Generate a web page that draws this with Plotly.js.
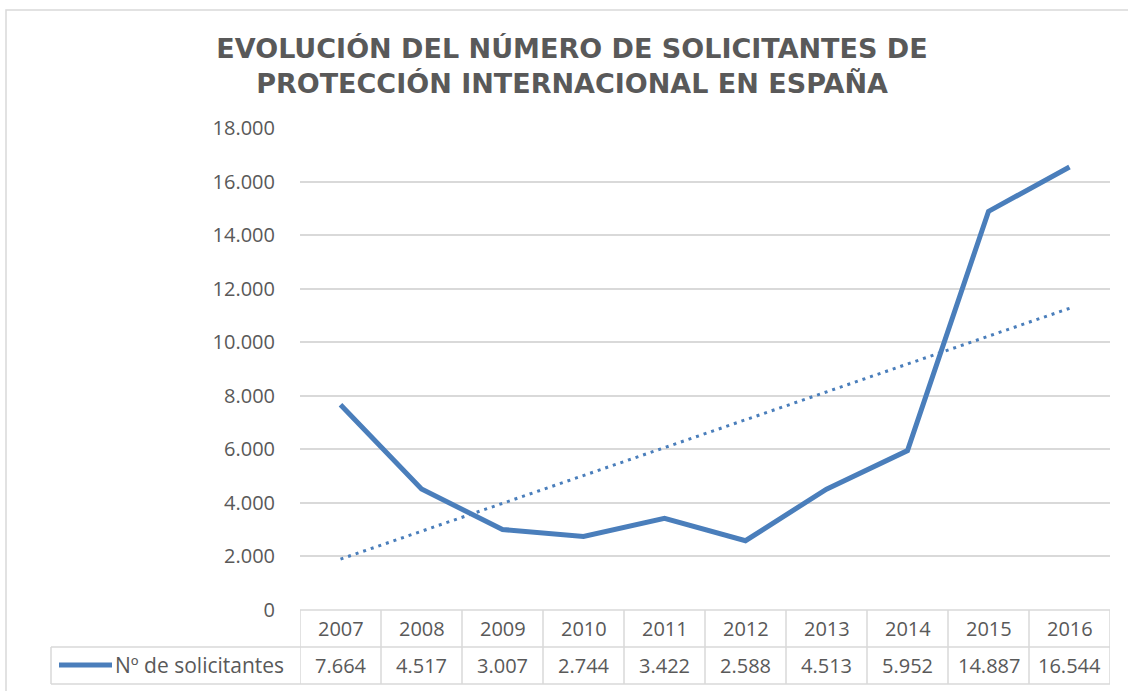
<!DOCTYPE html>
<html>
<head>
<meta charset="utf-8">
<script src="https://cdn.plot.ly/plotly-3.0.1.min.js"></script>
<style>html,body{margin:0;padding:0;background:#fff;}#chart{width:1128px;height:691px;}</style>
</head>
<body>
<div id="chart"></div>
<script>
const chartTitle = 'EVOLUCIÓN DEL NÚMERO DE SOLICITANTES DE<br>PROTECCIÓN INTERNACIONAL EN ESPAÑA';
const seriesName = 'Nº de solicitantes';
const years = ['2007','2008','2009','2010','2011','2012','2013','2014','2015','2016'];
const solicitantes = [7664, 4517, 3007, 2744, 3422, 2588, 4513, 5952, 14887, 16544];
const yTickVals = [0, 2000, 4000, 6000, 8000, 10000, 12000, 14000, 16000, 18000];
const yTickText = ['0','2.000','4.000','6.000','8.000','10.000','12.000','14.000','16.000','18.000'];

// linear trendline (least squares) from the series
const n = solicitantes.length;
const xs = solicitantes.map((_, i) => i + 1);
const mx = xs.reduce((a, b) => a + b, 0) / n;
const my = solicitantes.reduce((a, b) => a + b, 0) / n;
let sxy = 0, sxx = 0;
for (let i = 0; i < n; i++) { sxy += (xs[i] - mx) * (solicitantes[i] - my); sxx += (xs[i] - mx) ** 2; }
const slope = sxy / sxx, intercept = my - slope * mx;
const trend = xs.map(x => intercept + slope * x);

const fmt = v => String(v).replace(/\B(?=(\d{3})+(?!\d))/g, '.');

const BLUE = '#4A7EBB';
const GRID = '#D9D9D9';
const TXT = '#595959';
const FONT = 'Open Sans, Liberation Sans, sans-serif';

// geometry helpers (pixel -> paper) for table decorations
const L = 300, R = 18, T = 128, B = 81, W = 1128, H = 691;
const pw = W - L - R, ph = H - T - B;
const px = x => (x - L) / pw;
const py = y => (H - B - y) / ph;

const traces = [
  { x: years, y: solicitantes, type: 'scatter', mode: 'lines', name: seriesName,
    line: { color: BLUE, width: 5 }, hoverinfo: 'x+y' },
  { x: years, y: trend, type: 'scatter', mode: 'lines', name: 'Lineal',
    line: { color: BLUE, width: 3, dash: '3px,5px' }, hoverinfo: 'skip' }
];

const shapes = [];
const lineStyle = { color: GRID, width: 1.5 };
// outer chart border (left & top visible)
shapes.push({ type: 'rect', xref: 'paper', yref: 'paper', x0: px(6), x1: px(1140), y0: py(10), y1: py(700), line: lineStyle, layer: 'below' });
// table horizontal lines
shapes.push({ type: 'line', xref: 'x', yref: 'paper', x0: -0.5, x1: years.length - 0.5, y0: py(610), y1: py(610), line: lineStyle });
shapes.push({ type: 'line', xref: 'paper', yref: 'paper', x0: px(51), x1: 1, y0: py(647), y1: py(647), line: lineStyle });
shapes.push({ type: 'line', xref: 'paper', yref: 'paper', x0: px(51), x1: 1, y0: py(684), y1: py(684), line: lineStyle });
// table vertical lines
for (let i = 0; i <= years.length; i++) {
  shapes.push({ type: 'line', xref: 'x', yref: 'paper', x0: i - 0.5, x1: i - 0.5, y0: py(610), y1: py(684), line: lineStyle });
}
shapes.push({ type: 'line', xref: 'paper', yref: 'paper', x0: px(51), x1: px(51), y0: py(647), y1: py(684), line: lineStyle });
// legend key
shapes.push({ type: 'line', xref: 'paper', yref: 'paper', x0: px(59), x1: px(112), y0: py(665), y1: py(665), line: { color: BLUE, width: 5 } });

const annotations = [];
years.forEach((yr, i) => {
  annotations.push({ x: i, xref: 'x', y: py(628), yref: 'paper', text: yr, showarrow: false,
    xanchor: 'center', yanchor: 'middle', font: { family: FONT, size: 20, color: TXT } });
  annotations.push({ x: i, xref: 'x', y: py(665), yref: 'paper', text: fmt(solicitantes[i]), showarrow: false,
    xanchor: 'center', yanchor: 'middle', font: { family: FONT, size: 20, color: TXT } });
});
annotations.push({ x: px(113), xref: 'paper', y: py(665), yref: 'paper', text: seriesName, showarrow: false,
  xanchor: 'left', yanchor: 'middle', font: { family: FONT, size: 21, color: TXT } });

const layout = {
  width: W, height: H, autosize: false,
  margin: { l: L, r: R, t: T, b: B, pad: 0 },
  paper_bgcolor: '#ffffff', plot_bgcolor: '#ffffff',
  showlegend: false,
  title: { text: chartTitle, x: 572 / W, xanchor: 'center', xref: 'container', y: 1 - 58 / H, yref: 'container', yanchor: 'middle',
    font: { family: 'DejaVu Sans, sans-serif', size: 27, color: TXT, weight: 'bold' } },
  xaxis: { type: 'category', range: [-0.5, years.length - 0.5], showticklabels: false, showgrid: false,
    zeroline: false, showline: false, ticks: '', fixedrange: true },
  yaxis: { range: [0, 18000], tickvals: yTickVals, ticktext: yTickText, showgrid: true, gridcolor: GRID, gridwidth: 2,
    zeroline: false, showline: false, ticks: 'outside', ticklen: 20, tickcolor: 'rgba(0,0,0,0)',
    tickfont: { family: FONT, size: 20, color: TXT }, fixedrange: true },
  shapes: shapes,
  annotations: annotations
};

Plotly.newPlot('chart', traces, layout, { displayModeBar: false, staticPlot: true });
</script>
</body>
</html>
